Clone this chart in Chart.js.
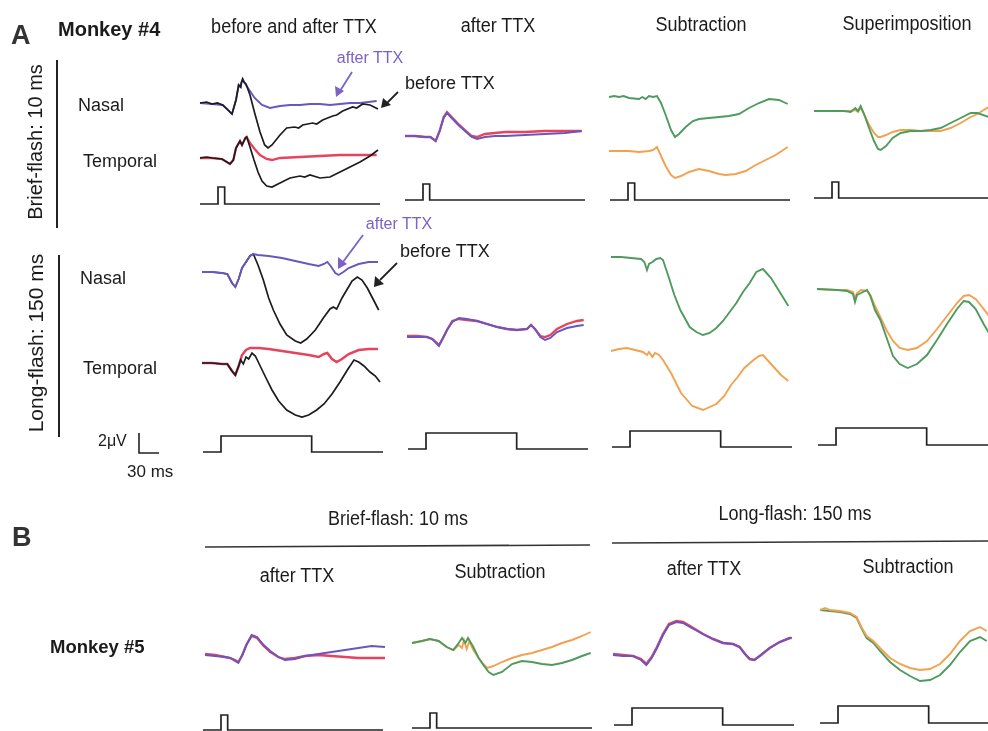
<!DOCTYPE html>
<html>
<head>
<meta charset="utf-8">
<script src="https://cdn.jsdelivr.net/npm/chart.js@4.4.1/dist/chart.umd.min.js"></script>
<style>
  body { margin: 0; background: #fff; }
  #wrap { position: relative; width: 988px; height: 731px; overflow: hidden; font-family: 'Liberation Sans', Arial, sans-serif; color: #1b1b1b; }
  #fig { position: absolute; left: 0; top: 0; }
  .t { position: absolute; white-space: nowrap; transform: translate(-50%, -50%); font-size: 15px; }
  .l { position: absolute; white-space: nowrap; transform: translate(0, -50%); font-size: 15px; }
  .head { font-size: 20px; transform: translate(-50%, -50%) scaleX(0.9); }
  svg { position: absolute; left: 0; top: 0; }
</style>
</head>
<body>
<div id="wrap">
  <canvas id="fig" width="988" height="731"></canvas>
  <svg width="988" height="731">
    <line x1="57" y1="60" x2="57" y2="228" stroke="#222" stroke-width="2"/>
    <line x1="59" y1="255" x2="59" y2="437" stroke="#222" stroke-width="2"/>
    <line x1="205" y1="547" x2="590" y2="545" stroke="#333" stroke-width="1.6"/>
    <line x1="612" y1="543" x2="988" y2="541" stroke="#333" stroke-width="1.6"/>
    <!-- arrows -->
    <line x1="352" y1="72" x2="340" y2="91" stroke="#7a62c6" stroke-width="1.8"/>
    <polygon points="336,97 335,86 344,91" fill="#7a62c6"/>
    <line x1="398" y1="92" x2="387" y2="103" stroke="#222" stroke-width="1.8"/>
    <polygon points="381,108 383,98 391,105" fill="#222"/>
    <line x1="363" y1="235" x2="343" y2="262" stroke="#7a62c6" stroke-width="1.8"/>
    <polygon points="338,269 338,257 347,264" fill="#7a62c6"/>
    <line x1="397" y1="263" x2="380" y2="280" stroke="#222" stroke-width="1.8"/>
    <polygon points="374,287 375,276 384,284" fill="#222"/>
  </svg>

  <div class="l" style="left:11px;top:35px;font-size:27px;font-weight:bold;color:#333">A</div>
  <div class="l" style="left:58px;top:29px;font-size:20px;font-weight:bold">Monkey #4</div>
  <div class="t head" style="left:294px;top:26px">before and after TTX</div>
  <div class="t head" style="left:498px;top:25px">after TTX</div>
  <div class="t head" style="left:701px;top:24px">Subtraction</div>
  <div class="t head" style="left:907px;top:23px">Superimposition</div>

  <div class="t" style="left:35px;top:142px;font-size:20px;transform:translate(-50%,-50%) rotate(-90deg)">Brief-flash: 10 ms</div>
  <div class="t" style="left:36px;top:343px;font-size:21px;transform:translate(-50%,-50%) rotate(-90deg)">Long-flash: 150 ms</div>
  <div class="l" style="left:78px;top:105px;font-size:18px">Nasal</div>
  <div class="l" style="left:83px;top:161px;font-size:18px">Temporal</div>
  <div class="l" style="left:80px;top:278px;font-size:18px">Nasal</div>
  <div class="l" style="left:83px;top:368px;font-size:18px">Temporal</div>
  <div class="l" style="left:98px;top:441px;font-size:16px">2&mu;V</div>
  <div class="l" style="left:127px;top:472px;font-size:17px">30 ms</div>

  <div class="t" style="left:370px;top:58px;color:#7a62c6;font-size:16px">after TTX</div>
  <div class="l" style="left:405px;top:83px;font-size:18px">before TTX</div>
  <div class="t" style="left:399px;top:224px;color:#7a62c6;font-size:16px">after TTX</div>
  <div class="l" style="left:400px;top:251px;font-size:18px">before TTX</div>

  <div class="l" style="left:12px;top:537px;font-size:27px;font-weight:bold;color:#333">B</div>
  <div class="t head" style="left:398px;top:518px">Brief-flash: 10 ms</div>
  <div class="t head" style="left:795px;top:513px">Long-flash: 150 ms</div>
  <div class="t head" style="left:297px;top:575px">after TTX</div>
  <div class="t head" style="left:500px;top:571px">Subtraction</div>
  <div class="t head" style="left:704px;top:568px">after TTX</div>
  <div class="t head" style="left:908px;top:566px">Subtraction</div>
  <div class="l" style="left:50px;top:647px;font-size:18.5px;font-weight:bold">Monkey #5</div>
</div>

<script>
// Traces: [time ms, amplitude uV] relative to the start of each sweep

// A, brief flash (10 ms)
const briefNasalBefore = [[0,0],[10,0.1],[18,-0.1],[26,0],[34,-0.2],[42,-0.7],[48,-1.1],[54,0.3],[58,1.8],[61,1.6],[62,2.0],[64,2.4],[66,2.1],[69,1.9],[75,0.8],[82,-1.0],[90,-2.9],[97,-4.2],[102,-4.5],[108,-4.2],[120,-3.2],[130,-2.5],[142,-2.4],[148,-2.5],[154,-2.2],[169,-2.0],[175,-2.1],[184,-1.7],[199,-1.3],[205,-1.2],[214,-0.8],[229,-0.4],[235,-0.5],[244,-0.1],[255,-0.2],[267,-0.6]];
const briefNasalAfter = [[0,0],[18,-0.1],[34,-0.2],[42,-0.7],[48,-1.1],[54,0.3],[58,1.8],[61,1.6],[62,2.0],[64,2.4],[66,2.1],[72,1.5],[82,0.5],[93,-0.2],[105,-0.5],[120,-0.3],[135,-0.2],[150,-0.2],[165,-0.1],[180,-0.1],[195,-0.2],[210,-0.1],[225,0],[240,0],[265,0.2]];
const briefTemporalBefore = [[0,0],[10,0.1],[18,0],[33,-0.1],[45,-0.6],[50,-0.2],[54,1.0],[60,1.7],[63,1.3],[68,2.0],[70,2.1],[75,1.1],[81,-0.2],[87,-1.4],[93,-2.3],[100,-2.8],[108,-2.9],[120,-2.5],[135,-2.0],[150,-1.8],[157,-1.9],[165,-1.7],[180,-2.0],[195,-1.9],[210,-1.4],[225,-0.9],[240,-0.4],[255,0.2],[267,0.8]];
const briefTemporalAfter = [[0,0],[18,0],[33,-0.1],[45,-0.6],[50,-0.2],[54,1.0],[60,1.7],[63,1.3],[68,2.0],[70,2.1],[75,1.5],[82,0.9],[90,0.3],[100,-0.1],[108,-0.2],[120,0],[150,0.1],[180,0.2],[210,0.3],[240,0.3],[265,0.3]];
const briefTtxNasal = [[0,0],[15,0],[30,-0.1],[38,-0.1],[46,-0.5],[52,0.5],[58,1.8],[63,2.3],[70,1.8],[80,1.1],[90,0.5],[100,-0.1],[108,-0.3],[120,-0.1],[135,0],[150,0],[180,0.1],[210,0.2],[240,0.3],[265,0.5]];
const briefTtxTemporal = [[0,0],[15,0],[30,-0.1],[38,-0.1],[46,-0.5],[52,0.5],[58,1.9],[63,2.4],[70,1.9],[80,1.2],[90,0.6],[100,0],[108,-0.1],[120,0.2],[135,0.3],[150,0.4],[180,0.4],[210,0.5],[240,0.5],[265,0.5]];
const briefSubNasal = [[0,0],[8,0.1],[15,0],[22,0.1],[30,-0.1],[45,-0.2],[50,0],[55,-0.2],[60,0.1],[66,0],[72,0.1],[78,-0.6],[85,-1.8],[93,-3.3],[99,-4.0],[105,-3.7],[115,-3.0],[126,-2.4],[135,-2.2],[150,-2.1],[165,-2.0],[180,-1.9],[195,-1.7],[210,-1.1],[225,-0.6],[240,-0.2],[255,-0.3],[268,-0.7]];
const briefSubTemporal = [[0,0],[15,0],[30,0],[45,-0.1],[60,0],[66,0.1],[72,0.4],[78,-0.5],[85,-1.5],[93,-2.4],[99,-2.7],[108,-2.5],[120,-2.1],[135,-1.8],[150,-2.0],[165,-2.3],[175,-2.4],[190,-2.3],[205,-2.0],[220,-1.4],[235,-0.9],[250,-0.4],[268,0.4]];
const briefSupNasal = [[0,0],[15,0],[30,0],[45,0],[55,-0.1],[62,0.3],[66,0],[70,0.5],[75,-0.3],[82,-1.6],[90,-3.0],[96,-3.8],[100,-3.9],[108,-3.5],[118,-2.7],[130,-2.2],[145,-2.0],[160,-2.0],[175,-1.9],[190,-1.7],[205,-1.2],[220,-0.7],[235,-0.2],[245,-0.2],[262,-0.6]];
const briefSupTemporal = [[0,0],[45,0],[55,0],[62,0.1],[66,-0.1],[70,0.3],[75,-0.3],[82,-1.3],[90,-2.2],[96,-2.6],[100,-2.6],[108,-2.4],[118,-2.1],[130,-1.9],[145,-1.9],[160,-2.0],[175,-2.0],[190,-2.0],[205,-1.7],[220,-1.2],[235,-0.6],[245,-0.3],[262,0.4]];

// A, long flash (150 ms)
const longNasalBefore = [[0,0],[15,0],[30,-0.1],[38,-0.2],[45,-1.1],[50,-1.5],[55,-0.7],[60,0.4],[66,1.0],[72,1.6],[77,1.8],[84,0.7],[92,-0.8],[100,-2.6],[107,-3.8],[117,-5.2],[127,-6.3],[140,-6.9],[148,-7.1],[157,-6.7],[170,-5.8],[182,-4.6],[192,-3.7],[197,-3.5],[202,-3.7],[210,-2.6],[218,-1.7],[225,-0.9],[233,-0.5],[240,-0.8],[248,-1.6],[255,-2.5],[265,-3.8]];
const longNasalAfter = [[0,0],[15,0],[30,-0.1],[38,-0.2],[45,-1.1],[50,-1.5],[55,-0.7],[60,0.4],[66,1.0],[72,1.6],[77,1.8],[84,1.7],[100,1.6],[120,1.4],[140,1.1],[160,0.8],[175,0.6],[183,0.8],[188,1.0],[193,0.6],[200,-0.1],[205,-0.3],[212,0],[220,0.4],[235,0.8],[250,1.0],[264,1.0]];
const longTemporalBefore = [[0,0],[15,0],[30,-0.1],[38,-0.1],[45,-0.8],[50,-1.2],[55,-0.3],[58,0.3],[62,-0.1],[66,0.6],[70,0.4],[75,1.0],[80,0.7],[88,-0.4],[96,-1.5],[105,-2.7],[115,-3.8],[127,-4.7],[140,-5.2],[150,-5.4],[160,-5.2],[172,-4.7],[183,-4.1],[195,-3.1],[207,-1.9],[218,-0.7],[228,0.3],[235,0.1],[243,-0.3],[252,-0.9],[260,-1.3],[267,-1.9]];
const longTemporalAfter = [[0,0],[15,0],[30,-0.1],[38,-0.1],[45,-0.8],[50,-1.2],[55,-0.3],[60,0.8],[66,1.3],[72,1.5],[85,1.5],[100,1.4],[120,1.2],[140,1.0],[160,0.8],[175,0.6],[183,0.9],[188,1.0],[195,0.4],[202,0.1],[210,0.4],[220,0.9],[235,1.3],[250,1.4],[264,1.4]];
const longTtxNasal = [[0,0],[15,0],[30,0],[38,-0.2],[45,-0.7],[48,-0.9],[54,-0.1],[60,0.7],[68,1.5],[78,1.9],[90,1.8],[105,1.6],[120,1.3],[135,1.0],[150,0.8],[165,0.7],[180,0.8],[186,1.2],[192,0.8],[200,0],[207,-0.3],[215,-0.1],[225,0.5],[240,0.9],[255,1.1],[265,1.2]];
const longTtxTemporal = [[0,0.1],[15,0.1],[30,0],[38,-0.2],[45,-0.6],[48,-0.8],[54,-0.1],[60,0.7],[68,1.6],[78,1.8],[90,1.7],[105,1.6],[120,1.3],[135,1.0],[150,0.8],[165,0.7],[180,0.8],[186,1.2],[192,0.8],[200,0.1],[207,0],[215,0.2],[225,0.8],[240,1.3],[255,1.6],[265,1.7]];
const longSubNasal = [[0,0],[15,0],[30,-0.1],[45,-0.2],[50,-0.5],[54,-1.3],[57,-0.7],[62,-0.5],[68,-0.2],[74,-0.1],[78,-0.3],[86,-1.9],[95,-3.8],[104,-5.3],[118,-7.0],[128,-7.5],[138,-7.8],[148,-7.6],[158,-7.1],[168,-6.4],[178,-5.5],[188,-4.6],[198,-3.5],[208,-2.6],[218,-1.5],[228,-1.2],[240,-2.1],[255,-3.7],[266,-4.9]];
const longSubTemporal = [[0,0],[12,0.2],[24,0.3],[36,0.1],[48,-0.1],[54,-0.4],[57,-0.1],[62,-0.6],[66,-0.2],[72,-0.4],[78,-0.9],[90,-2.2],[105,-4.2],[122,-5.5],[138,-5.9],[158,-5.3],[170,-4.5],[180,-3.4],[190,-2.6],[200,-1.7],[212,-1.0],[222,-0.5],[228,-0.4],[240,-1.3],[255,-2.4],[266,-3.0]];
const longSupNasal = [[0,0],[30,-0.1],[45,-0.2],[54,-0.5],[57,-1.3],[60,-0.6],[66,-0.4],[75,-0.1],[80,-0.7],[87,-2.1],[95,-3.1],[104,-4.8],[114,-6.7],[124,-7.5],[136,-7.9],[150,-7.5],[165,-6.6],[180,-5.1],[195,-3.5],[210,-2.0],[220,-1.2],[228,-1.3],[238,-2.0],[250,-3.5],[258,-4.4]];
const longSupTemporal = [[0,0],[30,-0.1],[45,-0.1],[54,-0.3],[57,-0.9],[60,-0.4],[66,-0.1],[75,-0.2],[80,-0.6],[87,-1.7],[95,-2.8],[104,-4.1],[114,-5.2],[124,-5.9],[136,-6.1],[150,-5.9],[165,-5.2],[180,-4.0],[195,-2.7],[210,-1.4],[220,-0.7],[228,-0.6],[238,-1.0],[250,-2.0],[258,-2.7]];

// B, monkey #5
const m5BriefTtxNasal = [[0,0],[15,-0.1],[30,-0.2],[38,-0.3],[45,-0.6],[50,-0.8],[56,0],[62,1.0],[70,2.0],[78,1.8],[88,1.0],[98,0.4],[110,-0.2],[120,-0.5],[135,-0.4],[150,-0.1],[170,0.1],[190,0.3],[210,0.5],[230,0.7],[250,0.9],[270,0.8]];
const m5BriefTtxTemporal = [[0,0.1],[15,0],[30,-0.2],[38,-0.3],[45,-0.5],[50,-0.7],[56,0],[62,1.0],[70,1.9],[78,1.7],[88,0.9],[98,0.3],[110,-0.2],[120,-0.4],[135,-0.3],[150,-0.1],[170,0],[190,-0.1],[210,-0.2],[230,-0.3],[250,-0.3],[270,-0.3]];
const m5BriefSubNasal = [[0,0],[15,0.2],[27,0.4],[40,0.2],[52,-0.4],[62,-0.7],[70,0],[75,0.5],[80,0],[84,0.5],[92,-0.4],[100,-1.5],[107,-2.2],[115,-2.9],[122,-3.2],[135,-2.9],[150,-2.1],[165,-1.8],[180,-1.9],[195,-2.1],[210,-2.2],[225,-2.0],[240,-1.7],[255,-1.3],[268,-1.0]];
const m5BriefSubTemporal = [[0,0],[15,0.2],[27,0.4],[40,0.2],[52,-0.4],[62,-0.7],[70,-0.2],[75,-0.5],[78,0.3],[82,-0.6],[86,0.2],[92,-0.7],[100,-1.5],[107,-2.1],[113,-2.5],[122,-2.3],[135,-1.9],[150,-1.5],[165,-1.2],[180,-1.0],[195,-0.7],[210,-0.4],[225,0],[240,0.3],[255,0.7],[268,1.1]];
const m5LongTtxNasal = [[0,0],[15,-0.1],[30,-0.1],[42,-0.5],[50,-1.0],[58,-0.3],[66,0.7],[75,2.0],[84,3.0],[95,3.3],[105,3.2],[118,2.7],[135,2.1],[150,1.6],[165,1.2],[180,1.1],[190,0.8],[198,0.1],[205,-0.4],[212,-0.5],[222,0],[235,0.7],[250,1.3],[265,1.7],[268,1.7]];
const m5LongTtxTemporal = [[0,0.1],[15,0],[30,-0.1],[42,-0.4],[50,-0.9],[58,-0.2],[66,0.8],[75,2.1],[84,3.1],[95,3.4],[105,3.3],[118,2.8],[135,2.1],[150,1.6],[165,1.2],[180,1.1],[190,0.8],[198,0.1],[205,-0.4],[212,-0.5],[222,0],[235,0.7],[250,1.3],[265,1.7],[268,1.7]];
const m5LongSubNasal = [[0,0],[15,-0.1],[30,-0.2],[45,-0.4],[55,-0.8],[62,-1.8],[70,-2.8],[80,-3.3],[90,-4.1],[105,-5.2],[120,-6.0],[135,-6.6],[150,-7.1],[165,-7.0],[180,-6.5],[195,-5.5],[210,-4.2],[225,-3.1],[240,-2.7],[250,-3.1]];
const m5LongSubTemporal = [[0,0],[8,0.2],[15,0],[30,-0.1],[45,-0.3],[55,-0.7],[62,-1.7],[70,-2.6],[80,-3.1],[90,-3.8],[105,-4.8],[120,-5.4],[135,-5.8],[150,-6.0],[165,-5.9],[180,-5.4],[195,-4.4],[210,-3.1],[225,-2.1],[240,-1.7],[250,-2.1]];

// Stimulus monitor (0 = off, 1 = on)
const stimBriefTimes = [0, 27, 27, 37, 37, 270];
const stimLongTimes = [0, 27, 27, 163, 163, 270];
const stimLevels = [0, 0, 1, 1, 0, 0];

// Calibration bar: 2 uV, 30 ms
const scaleBarTimes = [0, 0, 30];
const scaleBarValues = [2, 0, 0];

// Figure geometry: 10 px per uV, 1.5 ms per px
const PX_PER_UV = 10;
const MS_PER_PX = 1.5;
const W = 988, H = 731;

const colors = {
  black: '#1c1c1c',
  purple: '#6a56be',
  red: '#e6435d',
  green: '#4f9a5d',
  orange: '#f2a24f',
};

// Where each sweep starts on the figure (x0, y0 in px) - listed top-most first
const traceLayout = [
  { data: briefNasalBefore, x0: 200, y0: 103, color: colors.black, w: 1.7 },
  { data: briefNasalAfter, x0: 200, y0: 103, color: colors.purple, w: 1.9 },
  { data: briefTemporalBefore, x0: 200, y0: 158, color: colors.black, w: 1.7 },
  { data: briefTemporalAfter, x0: 200, y0: 158, color: colors.red, w: 2.3 },
  { data: briefTtxNasal, x0: 405, y0: 136, color: colors.purple, w: 1.9 },
  { data: briefTtxTemporal, x0: 405, y0: 136, color: colors.red, w: 2.3 },
  { data: briefSubNasal, x0: 609, y0: 97, color: colors.green, w: 1.9 },
  { data: briefSubTemporal, x0: 609, y0: 151, color: colors.orange, w: 1.9 },
  { data: briefSupNasal, x0: 814, y0: 111, color: colors.green, w: 1.9 },
  { data: briefSupTemporal, x0: 814, y0: 111, color: colors.orange, w: 1.9 },

  { data: longNasalAfter, x0: 202, y0: 272, color: colors.purple, w: 1.9 },
  { data: longNasalBefore, x0: 202, y0: 272, color: colors.black, w: 1.7 },
  { data: longTemporalBefore, x0: 202, y0: 363, color: colors.black, w: 1.7 },
  { data: longTemporalAfter, x0: 202, y0: 363, color: colors.red, w: 2.5 },
  { data: longTtxNasal, x0: 407, y0: 337, color: colors.purple, w: 1.9 },
  { data: longTtxTemporal, x0: 407, y0: 337, color: colors.red, w: 2.3 },
  { data: longSubNasal, x0: 611, y0: 257, color: colors.green, w: 1.9 },
  { data: longSubTemporal, x0: 611, y0: 351, color: colors.orange, w: 1.9 },
  { data: longSupNasal, x0: 817, y0: 289, color: colors.green, w: 1.9 },
  { data: longSupTemporal, x0: 817, y0: 289, color: colors.orange, w: 1.9 },

  { data: m5BriefTtxNasal, x0: 205, y0: 655, color: colors.purple, w: 1.9 },
  { data: m5BriefTtxTemporal, x0: 205, y0: 655, color: colors.red, w: 2.3 },
  { data: m5BriefSubNasal, x0: 412, y0: 643, color: colors.green, w: 1.9 },
  { data: m5BriefSubTemporal, x0: 412, y0: 643, color: colors.orange, w: 1.9 },
  { data: m5LongTtxNasal, x0: 613, y0: 655, color: colors.purple, w: 1.9 },
  { data: m5LongTtxTemporal, x0: 613, y0: 655, color: colors.red, w: 2.5 },
  { data: m5LongSubTemporal, x0: 820, y0: 610, color: colors.orange, w: 1.9 },
  { data: m5LongSubNasal, x0: 820, y0: 610, color: colors.green, w: 1.9 },
];

// Stimulus traces under each column (baseline x0, y0, pulse height px)
const stimLayout = [
  { times: stimBriefTimes, x0: 200, y0: 204, h: 17 },
  { times: stimBriefTimes, x0: 405, y0: 200, h: 16 },
  { times: stimBriefTimes, x0: 610, y0: 200, h: 17 },
  { times: stimBriefTimes, x0: 814, y0: 198, h: 16 },
  { times: stimLongTimes, x0: 203, y0: 452, h: 16 },
  { times: stimLongTimes, x0: 408, y0: 449, h: 16 },
  { times: stimLongTimes, x0: 612, y0: 447, h: 16 },
  { times: stimLongTimes, x0: 818, y0: 445, h: 17 },
  { times: stimBriefTimes, x0: 203, y0: 730, h: 15 },
  { times: stimBriefTimes, x0: 412, y0: 728, h: 15 },
  { times: stimLongTimes, x0: 614, y0: 725, h: 17 },
  { times: stimLongTimes, x0: 820, y0: 723, h: 17 },
];

// Put a sweep at its place on the figure
function placeTrace(points, x0, y0) {
  return points.map((p) => ({ x: x0 * MS_PER_PX + p[0], y: -y0 / PX_PER_UV + p[1] }));
}

function lineDataset(data, color, width) {
  return {
    data: data,
    borderColor: color,
    borderWidth: width,
    pointRadius: 0,
    tension: 0,
    fill: false,
  };
}

const datasets = [];
traceLayout.forEach((t) => {
  datasets.push(lineDataset(placeTrace(t.data, t.x0, t.y0), t.color, t.w));
});
stimLayout.forEach((s) => {
  const pts = s.times.map((tm, i) => [tm, stimLevels[i] * s.h / PX_PER_UV]);
  datasets.push(lineDataset(placeTrace(pts, s.x0, s.y0), '#222', 1.7));
});
const barPts = scaleBarTimes.map((tm, i) => [tm, scaleBarValues[i]]);
datasets.push(lineDataset(placeTrace(barPts, 139, 453), '#222', 1.6));

const ctx = document.getElementById('fig').getContext('2d');
new Chart(ctx, {
  type: 'line',
  data: { datasets: datasets },
  options: {
    responsive: false,
    animation: false,
    devicePixelRatio: 1,
    layout: { padding: 0 },
    plugins: { legend: { display: false }, tooltip: { enabled: false } },
    scales: {
      x: { type: 'linear', display: false, min: 0, max: W * MS_PER_PX },
      y: { type: 'linear', display: false, min: -H / PX_PER_UV, max: 0 },
    },
  },
});
</script>
</body>
</html>
